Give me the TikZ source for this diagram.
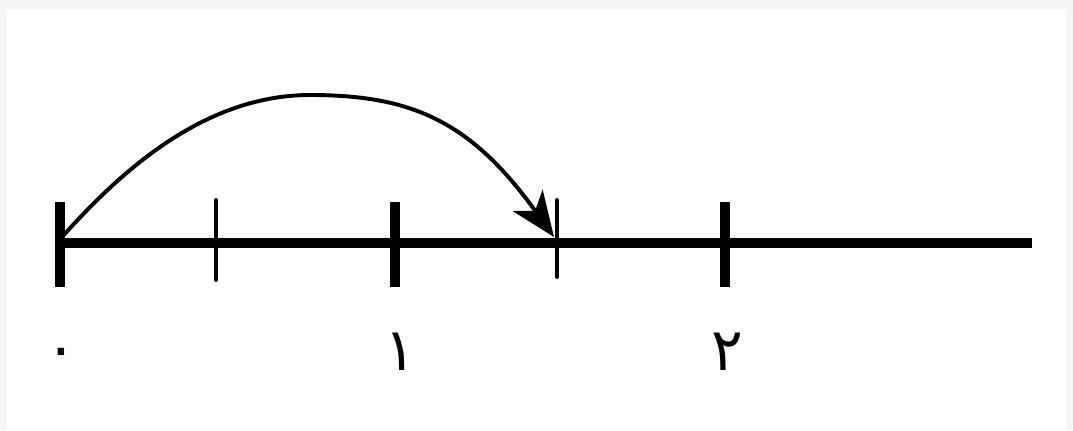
\documentclass[tikz,border=0pt]{standalone}
\usepackage{fontspec}
\newfontfamily\arabicfont[Script=Arabic]{DejaVu Sans}
\usetikzlibrary{arrows.meta}
\definecolor{pagebg}{HTML}{F5F5F5}
\tikzset{
  axis/.style={line width=7.8pt},
  majortick/.style={line width=7.5pt},
  minortick/.style={line width=2.8pt, line cap=round},
  jump/.style={line width=2.8pt, -{Stealth[length=32pt,width=26pt,inset=9pt]}},
  digit/.style={font=\arabicfont\fontsize{42}{50}\selectfont, inner sep=0pt}
}
\begin{document}
\begin{tikzpicture}[x=0.025cm,y=-0.025cm]
\fill[pagebg] (0,0) rectangle (1073,430);
\fill[white] (7,9) rectangle (1066,430);
\useasboundingbox (0,0) rectangle (1073,430);
% axis
\coordinate (start) at (57,243);
\coordinate (end) at (1032,243);
\draw[axis] (start) -- (end);
% ticks
\coordinate (t0a) at (60,202); \coordinate (t0b) at (60,287);
\coordinate (thA) at (216,200); \coordinate (thB) at (216,280);
\coordinate (t1a) at (395,202); \coordinate (t1b) at (395,287);
\coordinate (t3a) at (557,200); \coordinate (t3b) at (557,277);
\coordinate (t2a) at (725,202); \coordinate (t2b) at (725,287);
\draw[majortick] (t0a) -- (t0b);
\draw[minortick] (thA) -- (thB);
\draw[majortick] (t1a) -- (t1b);
\draw[minortick] (t3a) -- (t3b);
\draw[majortick] (t2a) -- (t2b);
% labels
\node[digit] (l0) at (61,358) {۰};
\node[digit] (l1) at (400,352) {۱};
\node[digit] (l2) at (727,352) {۲};
% jump arrow
\coordinate (from) at (62,237);
\coordinate (peak) at (310,95);
\coordinate (to) at (554,237);
\draw[jump] (from) .. controls (115,178) and (200,95) .. (peak)
  .. controls (410,95) and (470,120) .. (to);
\end{tikzpicture}
\end{document}
